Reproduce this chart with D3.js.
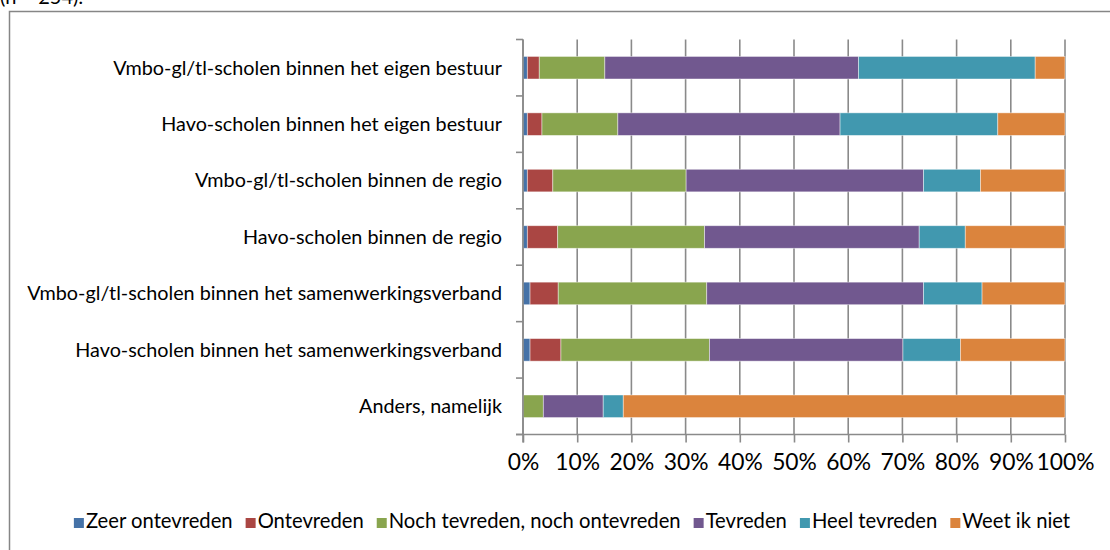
<!DOCTYPE html>
<html>
<head>
<meta charset="utf-8">
<script src="https://cdn.jsdelivr.net/npm/d3@7"></script>
<style>
  html, body { margin: 0; padding: 0; background: #fff; }
  svg { display: block; }
</style>
</head>
<body>
<svg id="chart" width="1110" height="550"></svg>
<script>
const categories = [
  "Vmbo-gl/tl-scholen binnen het eigen bestuur",
  "Havo-scholen binnen het eigen bestuur",
  "Vmbo-gl/tl-scholen binnen de regio",
  "Havo-scholen binnen de regio",
  "Vmbo-gl/tl-scholen binnen het samenwerkingsverband",
  "Havo-scholen binnen het samenwerkingsverband",
  "Anders, namelijk"
];
const seriesNames = ["Zeer ontevreden", "Ontevreden", "Noch tevreden, noch ontevreden", "Tevreden", "Heel tevreden", "Weet ik niet"];
const zeerOntevreden = [0.8, 0.8, 0.8, 0.8, 1.3, 1.3, 0];
const ontevreden     = [2.2, 2.7, 4.7, 5.6, 5.2, 5.7, 0];
const noch           = [12.1, 14.0, 24.6, 27.1, 27.4, 27.4, 3.75];
const tevreden       = [46.8, 41.0, 43.8, 39.6, 40.0, 35.7, 11.05];
const heelTevreden   = [32.6, 29.1, 10.5, 8.5, 10.8, 10.6, 3.7];
const weetIkNiet     = [5.5, 12.4, 15.6, 18.4, 15.3, 19.3, 81.5];
const xTicks = [0, 10, 20, 30, 40, 50, 60, 70, 80, 90, 100];
const colors = ["#4572A7", "#AA4643", "#89A54E", "#71588F", "#4198AF", "#DB843D"];

const seriesValues = [zeerOntevreden, ontevreden, noch, tevreden, heelTevreden, weetIkNiet];
const table = categories.map((c, i) => {
  const row = { cat: c };
  seriesNames.forEach((s, j) => row[s] = seriesValues[j][i]);
  return row;
});

const svg = d3.select("#chart");
const FONT = "Lato, 'Noto Sans', sans-serif";
const gridColor = "#8a8a8a";

function fitSize(text, target) {
  const t = svg.append("text").attr("font-family", FONT).attr("font-size", 100).text(text);
  const w = t.node().getComputedTextLength();
  t.remove();
  return 100 * target / w;
}

// partially visible note at very top (cut off in the reference as well)
svg.append("text").attr("x", 0).attr("y", 4)
  .attr("font-family", FONT).attr("font-size", 20).attr("fill", "#000")
  .text("(n = 254):");

// outer frame
svg.append("rect").attr("x", 9.5).attr("y", 11.5).attr("width", 1120).attr("height", 560)
  .attr("fill", "none").attr("stroke", "#868686").attr("stroke-width", 1.5);

const x = d3.scaleLinear().domain([0, 100]).range([523, 1065]);
const y = d3.scaleBand().domain(categories).range([39.5, 434.5]).paddingInner(0.6).paddingOuter(0.3);

// gridlines
svg.append("g").selectAll("line").data(xTicks).join("line")
  .attr("x1", d => x(d)).attr("x2", d => x(d))
  .attr("y1", 39.5).attr("y2", 434.5)
  .attr("stroke", gridColor).attr("stroke-width", 1.6);

// stacked bars
const stack = d3.stack().keys(seriesNames);
const stacked = stack(table);
svg.append("g").selectAll("g").data(stacked).join("g")
  .attr("fill", (d, i) => colors[i])
  .selectAll("rect").data(d => d).join("rect")
  .attr("x", d => x(d[0]))
  .attr("width", d => Math.max(0, x(d[1]) - x(d[0])))
  .attr("y", d => y(d.data.cat))
  .attr("height", y.bandwidth())
  .attr("stroke", "rgba(255,255,255,0.55)")
  .attr("stroke-width", 0.8);

// x axis
const xAxisSize = fitSize("100%", 58);
const xAxis = svg.append("g").attr("transform", "translate(0,434.5)")
  .call(d3.axisBottom(x).tickValues(xTicks).tickFormat(d => d + "%").tickSize(8).tickPadding(11).tickSizeOuter(0));
xAxis.select(".domain").attr("stroke", gridColor).attr("stroke-width", 1.6)
  .attr("d", "M516,0H1065");
xAxis.selectAll(".tick line").attr("stroke", gridColor).attr("stroke-width", 1.6);
xAxis.selectAll(".tick text").attr("font-family", FONT).attr("font-size", xAxisSize).attr("fill", "#000");

// y axis (category ticks at band boundaries)
const step = y.step();
const boundaries = d3.range(categories.length + 1).map(i => 39.5 + i * step);
svg.append("line").attr("x1", x(0)).attr("x2", x(0)).attr("y1", 39.5).attr("y2", 442.5)
  .attr("stroke", gridColor).attr("stroke-width", 1.6);
svg.append("g").selectAll("line").data(boundaries).join("line")
  .attr("x1", 516).attr("x2", x(0)).attr("y1", d => d).attr("y2", d => d)
  .attr("stroke", gridColor).attr("stroke-width", 1.6);

const catSize = fitSize(categories[0], 389);
svg.append("g").selectAll("text").data(categories).join("text")
  .attr("x", 502).attr("y", d => y(d) + y.bandwidth() / 2)
  .attr("dy", "0.35em").attr("text-anchor", "end")
  .attr("font-family", FONT).attr("font-size", catSize).attr("fill", "#000")
  .text(d => d);

// legend
const legSize = fitSize(seriesNames[2], 292);
const legend = svg.append("g");
const sq = 10, gapSq = 2, gapItem = 13;
let widths = seriesNames.map(s => {
  const t = svg.append("text").attr("font-family", FONT).attr("font-size", legSize).text(s);
  const w = t.node().getComputedTextLength(); t.remove(); return w;
});
const total = d3.sum(widths) + seriesNames.length * (sq + gapSq) + (seriesNames.length - 1) * gapItem;
let cx = 572 - total / 2;
const baseY = 528;
seriesNames.forEach((s, i) => {
  legend.append("rect").attr("x", cx).attr("y", baseY - sq).attr("width", sq).attr("height", sq).attr("fill", colors[i]);
  cx += sq + gapSq;
  legend.append("text").attr("x", cx).attr("y", baseY)
    .attr("font-family", FONT).attr("font-size", legSize).attr("fill", "#000").text(s);
  cx += widths[i] + gapItem;
});
</script>
</body>
</html>
